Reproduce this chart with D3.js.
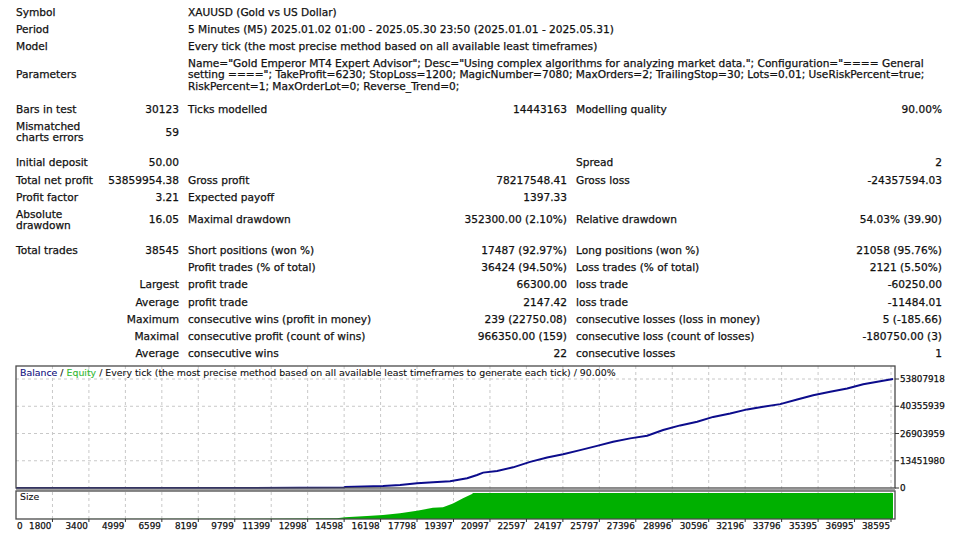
<!DOCTYPE html>
<html>
<head>
<meta charset="utf-8">
<title>Strategy Tester Report</title>
<style>
  body { margin: 0; background: #fff; }
  svg text { font-family: Tahoma, "DejaVu Sans", sans-serif; fill: #111; stroke: #111; stroke-width: 0.25px; }
</style>
</head>
<body>
<svg id="report" width="960" height="540"></svg>
<script src="https://cdn.jsdelivr.net/npm/d3@7/dist/d3.min.js"></script>
<script>
// ---- report text ----
var infoRows = [
  ["Symbol", "XAUUSD (Gold vs US Dollar)"],
  ["Period", "5 Minutes (M5) 2025.01.02 01:00 - 2025.05.30 23:50 (2025.01.01 - 2025.05.31)"],
  ["Model", "Every tick (the most precise method based on all available least timeframes)"]
];
var paramLines = [
  'Name="Gold Emperor MT4 Expert Advisor"; Desc="Using complex algorithms for analyzing market data."; Configuration="==== General',
  'setting ===="; TakeProfit=6230; StopLoss=1200; MagicNumber=7080; MaxOrders=2; TrailingStop=30; Lots=0.01; UseRiskPercent=true;',
  'RiskPercent=1; MaxOrderLot=0; Reverse_Trend=0;'
];
var statRows = [
  ["Bars in test", "30123", "Ticks modelled", "14443163", "Modelling quality", "90.00%"],
  ["Mismatched\ncharts errors", "59", "", "", "", ""],
  ["Initial deposit", "50.00", "", "", "Spread", "2"],
  ["Total net profit", "53859954.38", "Gross profit", "78217548.41", "Gross loss", "-24357594.03"],
  ["Profit factor", "3.21", "Expected payoff", "1397.33", "", ""],
  ["Absolute\ndrawdown", "16.05", "Maximal drawdown", "352300.00 (2.10%)", "Relative drawdown", "54.03% (39.90)"],
  ["Total trades", "38545", "Short positions (won %)", "17487 (92.97%)", "Long positions (won %)", "21058 (95.76%)"],
  ["", "", "Profit trades (% of total)", "36424 (94.50%)", "Loss trades (% of total)", "2121 (5.50%)"],
  ["", "Largest", "profit trade", "66300.00", "loss trade", "-60250.00"],
  ["", "Average", "profit trade", "2147.42", "loss trade", "-11484.01"],
  ["", "Maximum", "consecutive wins (profit in money)", "239 (22750.08)", "consecutive losses (loss in money)", "5 (-185.66)"],
  ["", "Maximal", "consecutive profit (count of wins)", "966350.00 (159)", "consecutive loss (count of losses)", "-180750.00 (3)"],
  ["", "Average", "consecutive wins", "22", "consecutive losses", "1"]
];

// ---- chart data ----
var xTickLabels = ["0", "1800", "3400", "4999", "6599", "8199", "9799", "11399", "12998", "14598",
  "16198", "17798", "19397", "20997", "22597", "24197", "25797", "27396", "28996", "30596",
  "32196", "33796", "35395", "36995", "38595"];
var yTickValues = [0, 13451980, 26903959, 40355939, 53807918];
var yTickLabels = ["0", "13451980", "26903959", "40355939", "53807918"];

var balanceTrades = [0, 3693, 8089, 12485, 14420, 14463, 16134, 16881, 17628, 18332, 19079, 19827,
  20266, 20530, 21146, 21848, 22596, 23343, 24047, 24794, 25541, 26245, 26992, 27740, 28443,
  29190, 29938, 30641, 31389, 32136, 32839, 33587, 34334, 35037, 35785, 36532, 37235, 37983, 38545];
var balanceValues = [50, 420, 5200, 78000, 210000, 490000, 985000, 1480000, 2300000, 2800000, 3300000, 4800000,
  6400000, 7600000, 8400000, 10200000, 12900000, 15100000, 16700000, 18700000, 20800000, 22800000, 24500000, 25800000, 28600000,
  30900000, 32700000, 35100000, 36800000, 38800000, 40100000, 41400000, 43700000, 45800000, 47500000, 49100000, 51200000, 52700000, 53860004];

var sizeTrades = [0, 8089, 12485, 14108, 14460, 15427, 16130, 16877, 17624, 18327, 18767, 19206, 19646, 20041, 20086, 38545];
var sizeValues = [0.01, 0.5, 1.5, 3, 6.5, 11.5, 15.4, 22, 32, 43, 45, 60, 80, 96, 100, 100];

// ---- layout ----
var svg = d3.select("#report");
svg.append("rect").attr("width", 960).attr("height", 540).attr("fill", "#fff");

var colX = [16, 179, 188, 567, 576, 942];
var colAnchor = ["start", "end", "start", "end", "start", "end"];
var infoY = [12, 29, 46];
var paramY = [63, 74.5, 86];
var statY = [109, 132, 162, 180, 197, 219.5, 250, 267, 284.5, 302, 319, 336, 353.5];
var fs = 10.6;

var table = svg.append("g").style("font-size", fs + "px");

function putText(g, x, yc, str, anchor) {
  var lines = str.split("\n");
  lines.forEach(function (ln, i) {
    g.append("text")
      .attr("x", x)
      .attr("y", yc + (i - (lines.length - 1) / 2) * 11)
      .attr("dy", "0.36em")
      .attr("text-anchor", anchor)
      .text(ln);
  });
}

infoRows.forEach(function (r, i) {
  putText(table, colX[0], infoY[i], r[0], "start");
  putText(table, colX[2], infoY[i], r[1], "start");
});
putText(table, colX[0], paramY[1], "Parameters", "start");
paramLines.forEach(function (ln, i) {
  putText(table, colX[2], paramY[i], ln, "start");
});
statRows.forEach(function (r, i) {
  r.forEach(function (cell, c) {
    if (cell) putText(table, colX[c], statY[i], cell, colAnchor[c]);
  });
});

// ---- balance chart ----
var L = 16, R = 895, T = 366, B = 488, sT = 491, sB = 519;

var x = d3.scaleLinear().domain([0, 38545]).range([L, 893]);
var y = d3.scaleLinear().domain([0, 53807918]).range([B, 379]);
var ySize = d3.scaleLinear().domain([0, 100]).range([sB, 493]);
var gx = d3.scaleLinear().domain([0, xTickLabels.length - 1]).range([L, 891]);

var chart = svg.append("g");

// grid
chart.selectAll("line.hgrid")
  .data(yTickValues.filter(function (v) { return v > 0; }))
  .enter().append("line")
  .attr("x1", L).attr("x2", R)
  .attr("y1", function (d) { return y(d); })
  .attr("y2", function (d) { return y(d); })
  .attr("stroke", "#c8c8c8").attr("stroke-dasharray", "3,3");

chart.selectAll("line.vgrid")
  .data(d3.range(1, xTickLabels.length))
  .enter().append("line")
  .attr("x1", function (d) { return gx(d); })
  .attr("x2", function (d) { return gx(d); })
  .attr("y1", T).attr("y2", sB)
  .attr("stroke", "#c8c8c8").attr("stroke-dasharray", "3,3");

// size area
var sizeData = sizeTrades.map(function (t, i) { return [t, sizeValues[i]]; });
chart.append("path")
  .datum(sizeData)
  .attr("d", d3.area()
    .x(function (d) { return x(d[0]); })
    .y0(sB)
    .y1(function (d) { return ySize(d[1]); }))
  .attr("fill", "#00b000");

// balance line
var balData = balanceTrades.map(function (t, i) { return [t, balanceValues[i]]; });
chart.append("path")
  .datum(balData)
  .attr("d", d3.line()
    .x(function (d) { return x(d[0]); })
    .y(function (d) { return y(d[1]); }))
  .attr("fill", "none")
  .attr("stroke", "#0c0c8c")
  .attr("stroke-width", 2);

// frames
chart.append("rect").attr("x", L).attr("y", T).attr("width", R - L).attr("height", B - T)
  .attr("fill", "none").attr("stroke", "#4a4a4a").attr("stroke-width", 1.3);
chart.append("line").attr("x1", L).attr("x2", R).attr("y1", 489.5).attr("y2", 489.5)
  .attr("stroke", "#a0a0a0").attr("stroke-width", 1.5);
chart.append("rect").attr("x", L).attr("y", sT).attr("width", R - L).attr("height", sB - sT)
  .attr("fill", "none").attr("stroke", "#4a4a4a").attr("stroke-width", 1.3);

// y axis labels
var axisFs = 8.8;
chart.selectAll("line.ytick")
  .data(yTickValues).enter().append("line")
  .attr("x1", R).attr("x2", R + 4)
  .attr("y1", function (d) { return y(d); })
  .attr("y2", function (d) { return y(d); })
  .attr("stroke", "#333");
chart.selectAll("text.ylab")
  .data(yTickValues).enter().append("text")
  .attr("x", 900)
  .attr("y", function (d) { return y(d); })
  .attr("dy", "0.36em")
  .style("font-size", axisFs + "px")
  .text(function (d, i) { return yTickLabels[i]; });

// x axis labels
chart.selectAll("line.xtick")
  .data(d3.range(1, xTickLabels.length)).enter().append("line")
  .attr("x1", function (d) { return gx(d); })
  .attr("x2", function (d) { return gx(d); })
  .attr("y1", sB).attr("y2", sB + 3)
  .attr("stroke", "#333");
chart.selectAll("text.xlab")
  .data(xTickLabels).enter().append("text")
  .attr("x", function (d, i) { return i === 0 ? L + 1 : gx(i) - 1; })
  .attr("y", 526)
  .attr("dy", "0.36em")
  .attr("text-anchor", function (d, i) { return i === 0 ? "start" : "end"; })
  .style("font-size", axisFs + "px")
  .text(function (d) { return d; });

// chart captions
var cap = chart.append("text").attr("x", 20).attr("y", 373).attr("dy", "0.36em")
  .style("font-size", "9.4px").style("stroke-width", "0.1px");
cap.append("tspan").style("fill", "#101080").style("stroke", "#101080").text("Balance");
cap.append("tspan").text(" / ");
cap.append("tspan").style("fill", "#33b833").style("stroke", "#33b833").text("Equity");
cap.append("tspan").text(" / Every tick (the most precise method based on all available least timeframes to generate each tick) / 90.00%");

chart.append("text").attr("x", 20).attr("y", 497).attr("dy", "0.36em")
  .style("font-size", "9.4px").style("stroke-width", "0.1px").text("Size");
</script>
</body>
</html>
